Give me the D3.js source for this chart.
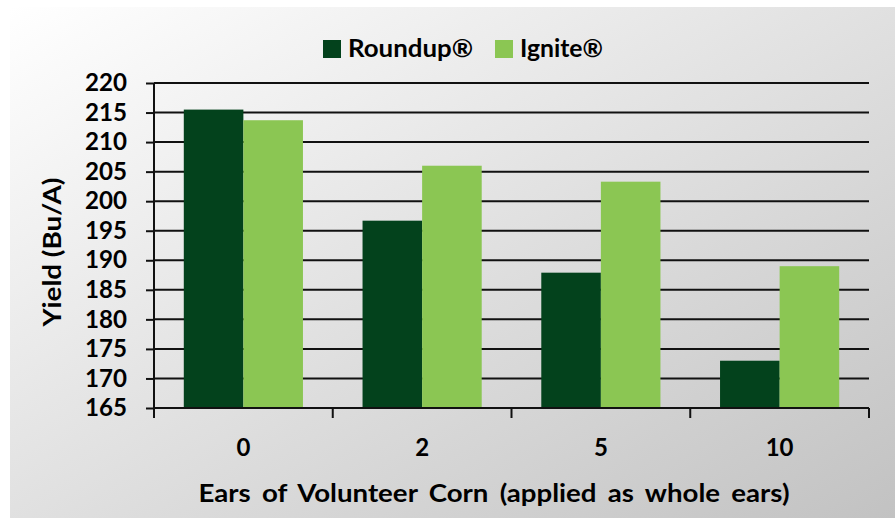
<!DOCTYPE html>
<html>
<head>
<meta charset="utf-8">
<script src="https://cdn.jsdelivr.net/npm/d3@7"></script>
<style>
  body { margin: 0; background: #fff; }
  text { font-family: Lato, "Open Sans", sans-serif; font-weight: bold; fill: #000; }
</style>
</head>
<body>
<svg id="chart" width="895" height="518"></svg>
<script>
// data
const categories = ['0', '2', '5', '10'];
const seriesNames = ['Roundup®', 'Ignite®'];
const roundup = [215.5, 196.7, 187.9, 173.0];
const ignite = [213.7, 206.0, 203.3, 189.0];
const yTicks = [165, 170, 175, 180, 185, 190, 195, 200, 205, 210, 215, 220];

const colors = ['#03421c', '#8bc653'];
const series = [roundup, ignite];

const width = 895, height = 518;
const margin = { top: 83, right: 26, bottom: 110, left: 154 };
const innerW = width - margin.left - margin.right;
const innerH = height - margin.top - margin.bottom;

const svg = d3.select('#chart');

// panel background, diagonal grey gradient
const grad = svg.append('defs').append('linearGradient')
  .attr('id', 'bg').attr('x1', '0%').attr('y1', '0%').attr('x2', '100%').attr('y2', '100%');
grad.append('stop').attr('offset', '0%').attr('stop-color', '#ffffff');
grad.append('stop').attr('offset', '100%').attr('stop-color', '#c2c2c2');
svg.append('rect')
  .attr('x', 10).attr('y', 7).attr('width', width - 10).attr('height', height - 7)
  .attr('fill', 'url(#bg)');

const x0 = d3.scaleBand().domain(categories).range([0, innerW]).paddingInner(0).paddingOuter(0);
// gap of one bar width split either side of the pair
const x1 = d3.scaleBand().domain(seriesNames).range([0, x0.bandwidth()]).paddingOuter(0.5).paddingInner(0);
const y = d3.scaleLinear().domain([165, 220]).range([innerH, 0]);

const g = svg.append('g').attr('transform', `translate(${margin.left},${margin.top})`);

// gridlines
g.append('g')
  .selectAll('line')
  .data(yTicks.slice(1))
  .enter()
  .append('line')
  .attr('x1', 0).attr('x2', innerW)
  .attr('y1', d => y(d)).attr('y2', d => y(d))
  .attr('stroke', '#111').attr('stroke-width', 2);

// bars
const groups = g.append('g')
  .selectAll('g')
  .data(categories)
  .enter()
  .append('g')
  .attr('transform', d => `translate(${x0(d)},0)`);

groups.selectAll('rect')
  .data((d, i) => series.map((s, j) => ({ name: seriesNames[j], value: s[i], j })))
  .enter()
  .append('rect')
  .attr('x', d => x1(d.name))
  .attr('width', x1.bandwidth())
  .attr('y', d => y(d.value))
  .attr('height', d => innerH - y(d.value))
  .attr('fill', d => colors[d.j]);

// y axis
const yAxis = g.append('g')
  .call(d3.axisLeft(y).tickValues(yTicks).tickSize(8).tickPadding(19).tickSizeOuter(0));
yAxis.select('.domain').attr('stroke', '#111').attr('stroke-width', 2)
  .attr('d', `M0,0V${innerH + 10}`);
yAxis.selectAll('.tick line').attr('stroke', '#111').attr('stroke-width', 2);
yAxis.selectAll('.tick text').style('font-size', '24px').attr('fill', '#000')
  .attr('textLength', 42).attr('lengthAdjust', 'spacingAndGlyphs');

// x axis, ticks sit between categories
const xAxis = g.append('g').attr('transform', `translate(0,${innerH})`);
xAxis.append('line').attr('x1', 0).attr('x2', innerW).attr('stroke', '#111').attr('stroke-width', 2);
xAxis.selectAll('.sep')
  .data(categories)
  .enter()
  .append('line')
  .attr('class', 'sep')
  .attr('x1', d => x0(d) + x0.bandwidth()).attr('x2', d => x0(d) + x0.bandwidth())
  .attr('y1', 0).attr('y2', 10)
  .attr('stroke', '#111').attr('stroke-width', 2);
xAxis.selectAll('.lbl')
  .data(categories)
  .enter()
  .append('text')
  .attr('class', 'lbl')
  .attr('x', d => x0(d) + x0.bandwidth() / 2)
  .attr('y', 48)
  .attr('text-anchor', 'middle')
  .style('font-size', '24px')
  .text(d => d);

// axis titles
svg.append('text')
  .attr('x', 494).attr('y', 502)
  .attr('text-anchor', 'middle')
  .style('font-size', '24px')
  .style('word-spacing', '4px')
  .attr('textLength', 591).attr('lengthAdjust', 'spacingAndGlyphs')
  .text('Ears of Volunteer Corn (applied as whole ears)');

svg.append('text')
  .attr('transform', 'translate(61,252) rotate(-90)')
  .attr('text-anchor', 'middle')
  .style('font-size', '24px')
  .attr('textLength', 149).attr('lengthAdjust', 'spacingAndGlyphs')
  .text('Yield (Bu/A)');

// legend
const legendX = [323, 495];
const legendW = [125, 83];
const legend = svg.append('g')
  .selectAll('g')
  .data(seriesNames)
  .enter()
  .append('g')
  .attr('transform', (d, i) => `translate(${legendX[i]},40)`);
legend.append('rect').attr('width', 18).attr('height', 18).attr('fill', (d, i) => colors[i]);
legend.append('text').attr('x', 25).attr('y', 17).style('font-size', '24px')
  .attr('textLength', (d, i) => legendW[i]).attr('lengthAdjust', 'spacingAndGlyphs')
  .text(d => d);
</script>
</body>
</html>
